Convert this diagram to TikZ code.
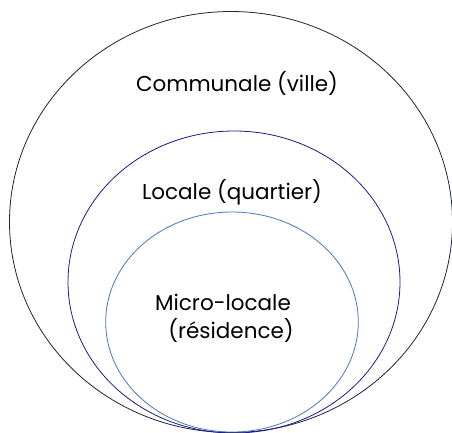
\documentclass[tikz,border=0pt]{standalone}
\usepackage{fontspec}
\setmainfont{Poppins}
\definecolor{outerc}{HTML}{22223A}
\definecolor{midc}{HTML}{1A1A8C}
\definecolor{innerc}{HTML}{4A78B8}
\begin{document}
\begin{tikzpicture}[x=1pt,y=-1pt,
  ring/.style={line width=0.8pt},
  lab/.style={font=\fontsize{21.5}{26}\selectfont, inner sep=0pt, text=black}]
\useasboundingbox (0,0) rectangle (452,432);
\clip (0,0) rectangle (452,432);
\draw[ring, outerc] (231,222) ellipse [x radius=221.5, y radius=210.5];
\draw[ring, midc] (234,282) ellipse [x radius=166, y radius=151];
\draw[ring, innerc] (232,322) ellipse [x radius=126.3, y radius=110];
\node[lab, anchor=base] (commune) at (237,91.5) {Communale (ville)};
\node[lab, anchor=base] (locale) at (232,199) {Locale (quartier)};
\node[lab, anchor=base] (micro1) at (223,310) {Micro-locale};
\node[lab, anchor=base] (micro2) at (231,338) {(résidence)};
\end{tikzpicture}
\end{document}
